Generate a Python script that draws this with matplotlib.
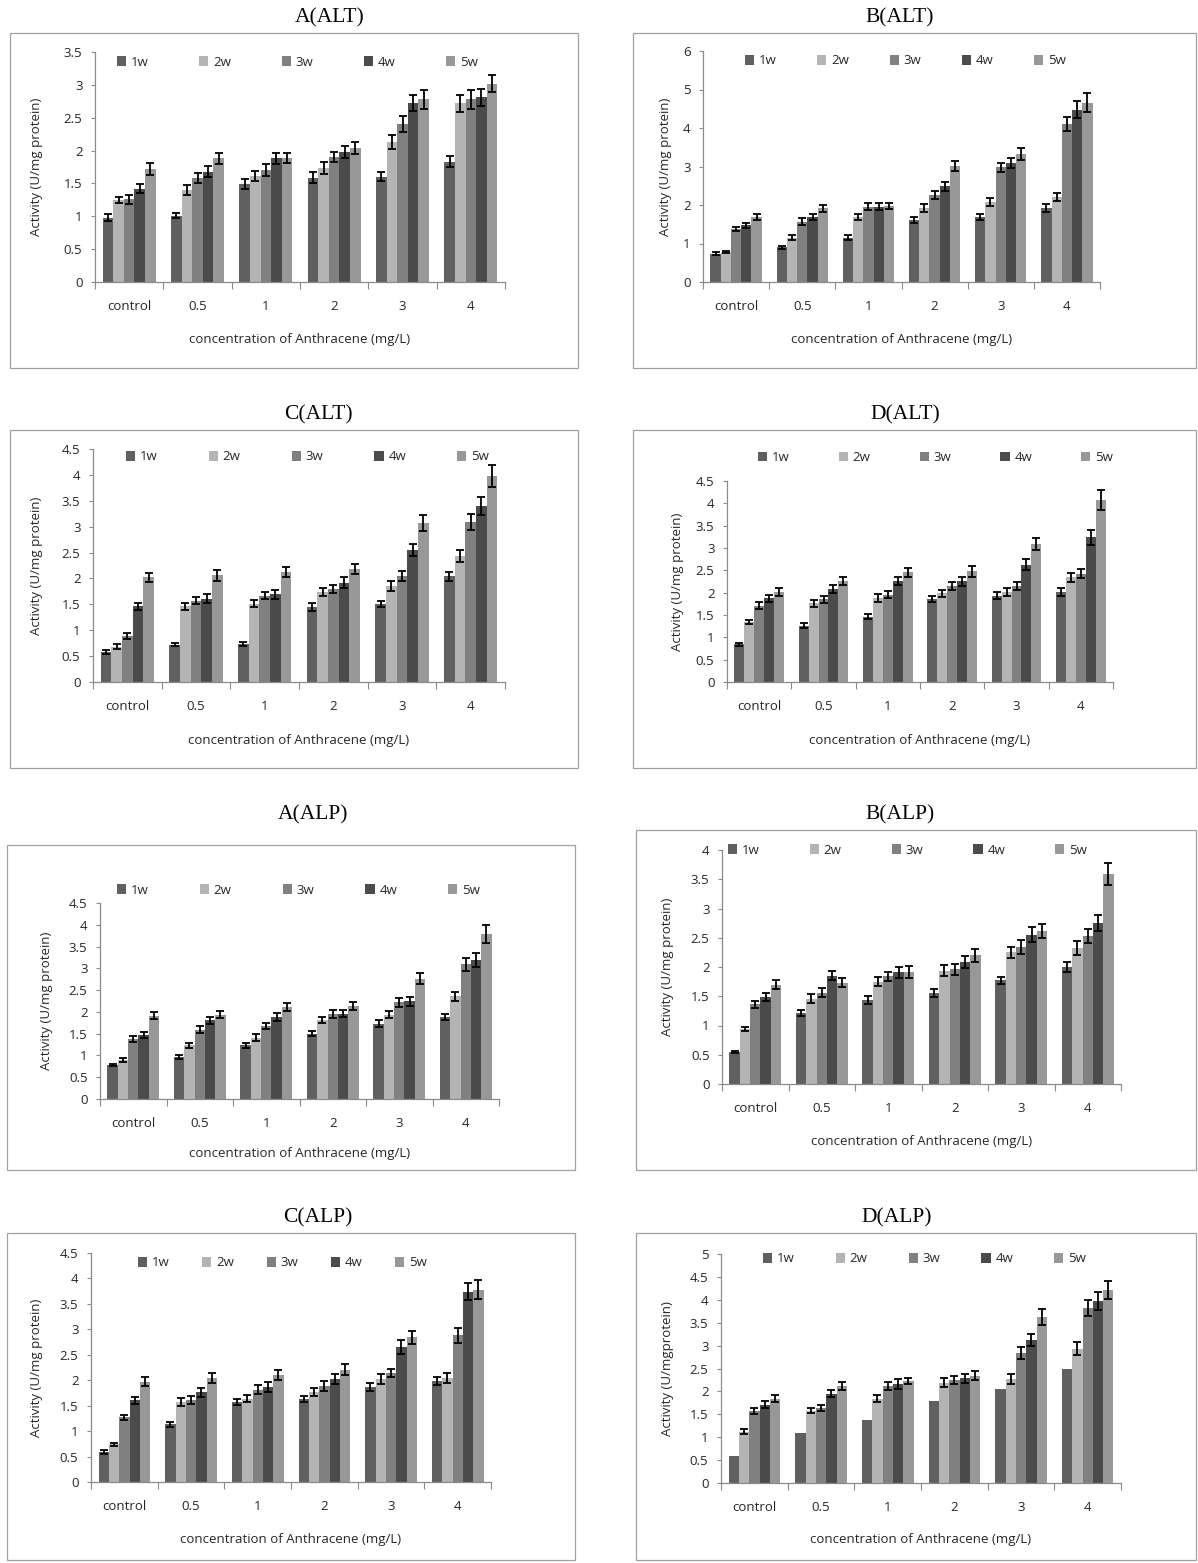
import numpy as np
import matplotlib
matplotlib.use("Agg")
import matplotlib.pyplot as plt
from matplotlib.patches import Rectangle
from matplotlib.ticker import FuncFormatter

plt.rcParams['font.family'] = ['Open Sans', 'DejaVu Sans']

CATEGORIES = ["control", "0.5", "1", "2", "3", "4"]
SERIES = ["1w", "2w", "3w", "4w", "5w"]
COLORS = ["#606060", "#b4b4b4", "#808080", "#4b4b4b", "#989898"]

# values: one row per series (1w..5w), one column per category
A_ALT = [[0.98, 1.01, 1.49, 1.59, 1.60, 1.83],
         [1.25, 1.40, 1.61, 1.73, 2.13, 2.72],
         [1.26, 1.58, 1.70, 1.90, 2.40, 2.78],
         [1.42, 1.68, 1.88, 1.98, 2.72, 2.81],
         [1.72, 1.88, 1.89, 2.04, 2.78, 3.02]]
A_ALT_ERR = [[0.05, 0.04, 0.08, 0.08, 0.07, 0.08],
             [0.05, 0.07, 0.08, 0.09, 0.10, 0.13],
             [0.07, 0.08, 0.09, 0.08, 0.12, 0.14],
             [0.07, 0.08, 0.09, 0.09, 0.12, 0.13],
             [0.09, 0.09, 0.08, 0.09, 0.14, 0.13]]

B_ALT = [[0.74, 0.90, 1.15, 1.61, 1.69, 1.92],
         [0.78, 1.15, 1.68, 1.93, 2.08, 2.20],
         [1.38, 1.57, 1.96, 2.26, 2.98, 4.10],
         [1.47, 1.69, 1.96, 2.49, 3.09, 4.48],
         [1.69, 1.91, 1.98, 3.01, 3.33, 4.66]]
B_ALT_ERR = [[0.03, 0.04, 0.07, 0.07, 0.07, 0.10],
             [0.03, 0.07, 0.08, 0.10, 0.10, 0.10],
             [0.06, 0.08, 0.08, 0.11, 0.12, 0.19],
             [0.07, 0.08, 0.08, 0.12, 0.13, 0.21],
             [0.08, 0.08, 0.08, 0.13, 0.16, 0.24]]

C_ALT = [[0.58, 0.72, 0.74, 1.45, 1.50, 2.04],
         [0.68, 1.46, 1.51, 1.74, 1.85, 2.43],
         [0.89, 1.57, 1.67, 1.80, 2.05, 3.09],
         [1.46, 1.61, 1.69, 1.92, 2.55, 3.40],
         [2.02, 2.06, 2.13, 2.18, 3.07, 3.98]]
C_ALT_ERR = [[0.03, 0.03, 0.04, 0.07, 0.06, 0.08],
             [0.05, 0.06, 0.07, 0.08, 0.10, 0.12],
             [0.05, 0.07, 0.07, 0.08, 0.09, 0.15],
             [0.07, 0.08, 0.08, 0.10, 0.12, 0.17],
             [0.09, 0.11, 0.10, 0.10, 0.15, 0.21]]

D_ALT = [[0.84, 1.26, 1.46, 1.85, 1.93, 2.02],
         [1.34, 1.76, 1.88, 1.99, 2.02, 2.34],
         [1.71, 1.85, 1.95, 2.15, 2.16, 2.42],
         [1.87, 2.08, 2.26, 2.26, 2.63, 3.24],
         [2.02, 2.26, 2.46, 2.48, 3.09, 4.07]]
D_ALT_ERR = [[0.04, 0.05, 0.06, 0.07, 0.08, 0.09],
             [0.05, 0.07, 0.08, 0.08, 0.09, 0.09],
             [0.08, 0.08, 0.08, 0.08, 0.09, 0.10],
             [0.08, 0.09, 0.09, 0.10, 0.12, 0.17],
             [0.09, 0.09, 0.10, 0.12, 0.13, 0.22]]

A_ALP = [[0.78, 0.96, 1.23, 1.50, 1.73, 1.88],
         [0.90, 1.23, 1.41, 1.81, 1.94, 2.36],
         [1.38, 1.59, 1.68, 1.95, 2.22, 3.09],
         [1.47, 1.81, 1.88, 1.96, 2.24, 3.19],
         [1.91, 1.93, 2.11, 2.13, 2.76, 3.79]]
A_ALP_ERR = [[0.02, 0.04, 0.05, 0.06, 0.08, 0.07],
             [0.04, 0.05, 0.08, 0.07, 0.08, 0.10],
             [0.06, 0.08, 0.07, 0.09, 0.10, 0.15],
             [0.07, 0.08, 0.09, 0.08, 0.11, 0.16],
             [0.08, 0.08, 0.10, 0.09, 0.13, 0.20]]

B_ALP = [[0.55, 1.21, 1.43, 1.55, 1.77, 2.00],
         [0.94, 1.46, 1.75, 1.94, 2.25, 2.33],
         [1.36, 1.56, 1.84, 1.96, 2.35, 2.53],
         [1.49, 1.85, 1.91, 2.08, 2.55, 2.75],
         [1.70, 1.73, 1.92, 2.20, 2.62, 3.59]]
B_ALP_ERR = [[0.02, 0.05, 0.07, 0.07, 0.06, 0.09],
             [0.04, 0.07, 0.08, 0.10, 0.10, 0.12],
             [0.06, 0.08, 0.08, 0.09, 0.12, 0.12],
             [0.07, 0.08, 0.09, 0.10, 0.13, 0.14],
             [0.08, 0.08, 0.10, 0.11, 0.12, 0.18]]

C_ALP = [[0.59, 1.13, 1.58, 1.63, 1.86, 1.98],
         [0.74, 1.58, 1.64, 1.77, 2.02, 2.04],
         [1.27, 1.61, 1.81, 1.89, 2.15, 2.88],
         [1.61, 1.76, 1.86, 2.03, 2.66, 3.74],
         [1.97, 2.04, 2.10, 2.21, 2.84, 3.78]]
C_ALP_ERR = [[0.03, 0.04, 0.06, 0.06, 0.08, 0.08],
             [0.03, 0.08, 0.07, 0.08, 0.10, 0.10],
             [0.05, 0.08, 0.09, 0.10, 0.08, 0.14],
             [0.07, 0.09, 0.10, 0.10, 0.14, 0.17],
             [0.09, 0.10, 0.10, 0.11, 0.12, 0.19]]

D_ALP = [[0.60, 1.10, 1.38, 1.79, 2.05, 2.49],
         [1.12, 1.58, 1.84, 2.19, 2.27, 2.93],
         [1.57, 1.64, 2.12, 2.25, 2.84, 3.82],
         [1.71, 1.95, 2.16, 2.29, 3.12, 3.97],
         [1.84, 2.12, 2.23, 2.34, 3.62, 4.21]]
D_ALP_ERR = [[0.00, 0.00, 0.00, 0.00, 0.00, 0.00],
             [0.05, 0.06, 0.08, 0.10, 0.10, 0.14],
             [0.06, 0.07, 0.08, 0.09, 0.13, 0.17],
             [0.07, 0.08, 0.10, 0.10, 0.13, 0.20],
             [0.08, 0.08, 0.07, 0.10, 0.17, 0.20]]

W, H = 1198, 1563
fig = plt.figure(figsize=(W / 100, H / 100), dpi=100)
fig.patch.set_facecolor("white")

YLAB = "Activity (U/mg protein)"
XLAB = "concentration of Anthracene (mg/L)"

panels = [
    dict(title="A(ALT)", txy=(330, 18), box=(10, 33, 578, 368), ax=(95, 52, 505, 282),
         ymax=3.5, ystep=0.5, vals=A_ALT, err=A_ALT_ERR, leg=(117, 62, 81.5), ylx=37, xly=340,
         ylab=YLAB),
    dict(title="B(ALT)", txy=(900, 18), box=(633, 33, 1196, 368), ax=(703, 51, 1100, 282),
         ymax=6, ystep=1, vals=B_ALT, err=B_ALT_ERR, leg=(745, 61, 71.5), ylx=665, xly=340,
         ylab=YLAB),
    dict(title="C(ALT)", txy=(318, 415), box=(10, 430, 578, 768), ax=(93, 449, 505, 682),
         ymax=4.5, ystep=0.5, vals=C_ALT, err=C_ALT_ERR, leg=(126, 457, 82), ylx=37, xly=740,
         ylab=YLAB),
    dict(title="D(ALT)", txy=(905, 415), box=(633, 430, 1196, 768), ax=(727, 481, 1113, 682),
         ymax=4.5, ystep=0.5, vals=D_ALT, err=D_ALT_ERR, leg=(758, 458, 80), ylx=678, xly=740,
         ylab=YLAB),
    dict(title="A(ALP)", txy=(313, 815), box=(7, 845, 575, 1170), ax=(100, 903, 499, 1099),
         ymax=4.5, ystep=0.5, vals=A_ALP, err=A_ALP_ERR, leg=(117, 890, 82), ylx=47, xly=1154,
         ylab=YLAB),
    dict(title="B(ALP)", txy=(900, 815), box=(636, 830, 1196, 1170), ax=(722, 850, 1121, 1084),
         ymax=4, ystep=0.5, vals=B_ALP, err=B_ALP_ERR, leg=(728, 850, 81), ylx=668, xly=1142,
         ylab=YLAB),
    dict(title="C(ALP)", txy=(318, 1218), box=(7, 1233, 575, 1560), ax=(91, 1253, 491, 1482),
         ymax=4.5, ystep=0.5, vals=C_ALP, err=C_ALP_ERR, leg=(138, 1263, 63.5), ylx=37, xly=1539,
         ylab=YLAB),
    dict(title="D(ALP)", txy=(897, 1218), box=(636, 1233, 1196, 1560), ax=(721, 1254, 1121, 1483),
         ymax=5, ystep=0.5, vals=D_ALP, err=D_ALP_ERR, leg=(763, 1259, 72), ylx=667, xly=1540,
         ylab="Activity (U/mgprotein)"),
]

FS = 9.5
TXTCOL = "#262626"
AXCOL = "#8a8a8a"
x = np.arange(len(CATEGORIES))
bw = 0.155

for p in panels:
    # frame around each chart
    bl, bt, br, bb = p["box"]
    fig.add_artist(Rectangle((bl / W, 1 - bb / H), (br - bl) / W, (bb - bt) / H,
                             transform=fig.transFigure, fill=False, edgecolor="#a0a0a0", lw=0.9))
    # title
    fig.text(p["txy"][0] / W, 1 - p["txy"][1] / H, p["title"], ha="center", va="center",
             fontsize=15.5, family="Liberation Serif")
    l, t, r, b = p["ax"]
    ax = fig.add_axes([l / W, 1 - b / H, (r - l) / W, (b - t) / H])
    vals = np.array(p["vals"])
    errs = np.array(p["err"])
    handles = []
    for i, s in enumerate(SERIES):
        pos = x + (i - 2) * bw
        h = ax.bar(pos, vals[i], width=bw, color=COLORS[i], label=s, zorder=2)
        handles.append(h)
        m = errs[i] > 0
        if m.any():
            ax.errorbar(pos[m], vals[i][m], yerr=errs[i][m], fmt="none", ecolor="black",
                        elinewidth=1.3, capsize=3, capthick=1.3, zorder=3)
    ax.set_xlim(-0.5, len(CATEGORIES) - 0.5)
    ax.set_ylim(0, p["ymax"])
    ax.set_yticks(np.arange(0, p["ymax"] + 1e-9, p["ystep"]))
    ax.yaxis.set_major_formatter(FuncFormatter(lambda v, _: "%g" % round(v, 2)))
    ax.set_xticks(np.arange(-0.5, len(CATEGORIES)), minor=False)
    ax.set_xticklabels([])
    ax.set_xticks(x, minor=True)
    ax.set_xticklabels(CATEGORIES, minor=True)
    ax.tick_params(axis="x", which="major", length=5, color=AXCOL, direction="out")
    ax.tick_params(axis="x", which="minor", length=0, pad=13, labelsize=FS, labelcolor=TXTCOL)
    ax.tick_params(axis="y", length=3, color=AXCOL, pad=6, labelsize=FS, labelcolor=TXTCOL)
    for sp in ["top", "right"]:
        ax.spines[sp].set_visible(False)
    for sp in ["left", "bottom"]:
        ax.spines[sp].set_color(AXCOL)
        ax.spines[sp].set_linewidth(0.9)
    ax.set_facecolor("none")
    # axis titles
    fig.text(p["ylx"] / W, 1 - ((t + b) / 2) / H, p["ylab"], rotation=90, ha="center",
             va="center", fontsize=FS, color=TXTCOL)
    fig.text(((l + r) / 2) / W, 1 - p["xly"] / H, XLAB, ha="center", va="center",
             fontsize=FS, color=TXTCOL)
    # legend
    lx, ly, sp_px = p["leg"]
    fs_px = FS * 100 / 72
    entry_px = 0.7 * fs_px + 0.35 * fs_px + 17
    colsp = (sp_px - entry_px) / fs_px
    ax.legend(handles=handles, labels=SERIES, ncol=5, frameon=False, loc="center left",
              bbox_to_anchor=(lx / W, 1 - ly / H), bbox_transform=fig.transFigure,
              borderpad=0, borderaxespad=0, handlelength=0.7, handleheight=0.7,
              handletextpad=0.35, columnspacing=colsp, fontsize=FS, labelcolor=TXTCOL)

fig.savefig("out.png", dpi=100, facecolor="white")
